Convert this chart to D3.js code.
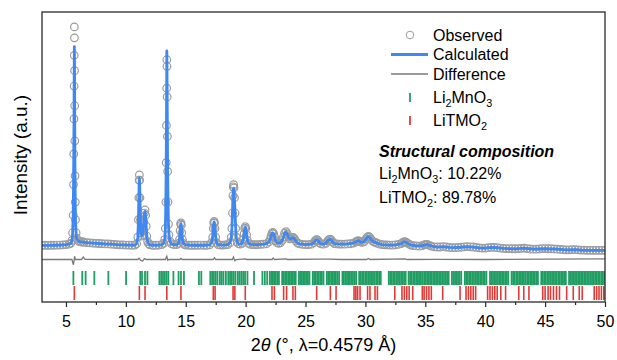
<!DOCTYPE html>
<html><head><meta charset="utf-8">
<script src="https://cdn.jsdelivr.net/npm/d3@7"></script>
<style>
body{margin:0;background:#fff}
svg{display:block}
text{font-family:"Liberation Sans",Arial,Helvetica,sans-serif;fill:#000}
</style>
</head><body>
<svg id="chart" width="617" height="360"></svg>
<script>
// ---------- DATA ----------
// Observed pattern: [2theta, intensity]
const observed = [
[3,0.2],[3.25,0.3],[3.5,0.2],[3.75,0.3],[4,0.3],[4.25,0.4],[4.5,0.4],[4.75,0.5],[5,0.6],[5.25,0.8],[5.4,1.2],[5.5,2.5],
[5.55,6],[5.6,14],[5.63,28],[5.65,42],[5.67,58],[5.68,73],[5.69,87],[5.7,100],[5.71,95],[5.72,80],[5.73,64],[5.74,48],[5.76,32],[5.78,20],[5.8,12],[5.85,6],[5.9,3.5],[6,2.5],[6.1,2],
[6.25,1.8],[6.4,1.9],[6.5,1.6],[6.75,1.5],[7,1.4],[7.25,1.3],[7.5,1.2],[7.75,1.1],[8,1],[8.25,0.9],[8.5,0.9],[8.75,0.8],[9,0.7],[9.25,0.6],[9.5,0.5],[9.75,0.5],[10,0.4],[10.25,0.4],[10.5,0.3],[10.75,0.4],[10.9,1],
[11,4],[11.05,12],[11.08,22],[11.11,30],[11.13,32.4],[11.15,30],[11.18,22],[11.22,12],[11.27,6],[11.33,4.5],[11.4,5],
[11.45,7],[11.5,11],[11.55,15],[11.6,16.4],[11.65,14],[11.7,9],[11.75,4.5],[11.82,2],[11.9,1],[12,0.5],
[12.25,0.3],[12.5,0.3],[12.75,0.4],[13,0.6],[13.15,1.2],[13.25,3],
[13.3,8],[13.34,20],[13.37,38],[13.39,55],[13.41,72],[13.42,85],[13.43,82],[13.45,68],[13.47,50],[13.49,34],[13.52,20],[13.56,10],[13.6,5],[13.7,2],[13.8,1],[14,0.6],[14.25,0.6],[14.4,1.2],
[14.48,3],[14.53,7],[14.57,10],[14.6,10.5],[14.63,9.5],[14.67,6],[14.72,3],[14.8,1.2],[14.9,0.6],[15,0.4],[15.25,0.3],[15.5,0.3],[15.75,0.3],[16,0.3],[16.25,0.4],[16.5,0.3],[16.75,0.3],[17,0.5],[17.15,1.5],
[17.25,4],[17.3,8],[17.34,10.5],[17.37,11.2],[17.4,10.5],[17.44,8],[17.5,4],[17.58,1.5],[17.7,0.6],[17.9,0.4],[18.1,0.4],[18.3,0.5],[18.5,0.6],[18.7,1.5],[18.8,4],
[18.85,8],[18.9,15],[18.94,23],[18.97,27],[19,28],[19.03,26.5],[19.07,22],[19.12,15],[19.17,8],[19.22,4],[19.3,1.8],[19.4,1],[19.55,0.8],[19.7,1.2],[19.8,3],
[19.87,5.5],[19.92,8],[19.97,8.8],[20.02,8],[20.08,5],[20.15,2.5],[20.25,1.2],[20.4,0.7],[20.6,0.6],[20.8,0.6],[21,0.6],[21.25,0.7],[21.5,0.8],[21.75,1],[21.95,1.8],
[22.05,3],[22.12,4.5],[22.2,5.8],[22.27,6.2],[22.34,5.6],[22.42,4],[22.5,2.4],[22.6,1.5],[22.75,1.2],[22.9,1.4],[23.05,2.5],
[23.15,4],[23.25,5.8],[23.37,6.5],[23.48,5.5],[23.58,4],[23.68,3.2],
[23.8,3.3],[23.9,3.8],[23.98,3.9],[24.08,3.2],[24.2,2.2],[24.35,1.3],[24.5,0.9],[24.75,0.7],[25,0.6],[25.25,0.6],[25.5,0.8],[25.7,1.5],
[25.8,2.3],[25.88,2.8],[25.95,2.9],[26.05,2.4],[26.15,1.5],[26.3,0.9],[26.5,0.8],[26.7,1.2],[26.85,2.3],
[26.95,2.9],[27.05,3.1],[27.15,2.7],[27.25,1.8],[27.4,1.1],[27.6,0.9],[27.8,0.8],[28,0.8],[28.25,0.8],[28.5,0.9],[28.75,1],[29,1.3],[29.2,1.8],
[29.3,2.2],[29.4,2.4],[29.5,2.2],[29.6,1.8],[29.75,1.6],[29.9,2],[30.05,3.2],
[30.15,4],[30.25,4.4],[30.35,4],[30.45,3.2],[30.55,2.4],[30.7,1.8],[30.85,1.6],[31,1.2],[31.2,0.8],[31.4,0.6],[31.6,0.5],[31.8,0.5],[32,0.4],[32.25,0.4],[32.5,0.5],[32.75,0.7],[33,1.1],
[33.1,1.5],[33.2,1.8],[33.3,1.9],[33.4,1.7],[33.5,1.3],[33.65,0.8],[33.8,0.4],[34,0.1],[34.25,0],[34.5,-0.1],[34.75,0.1],[34.9,0.5],
[35,0.6],[35.1,0.7],[35.2,0.6],[35.35,0.2],[35.5,-0.1],[35.75,-0.4],[36,-0.5],[36.25,-0.5],[36.5,-0.3],[36.75,-0.5],[37,-0.7],[37.25,-0.8],[37.5,-0.8],[37.75,-0.7],[38,-0.6],[38.25,-0.4],[38.5,-0.3],[38.75,-0.4],[39,-0.5],[39.25,-0.7],[39.5,-0.9],[39.75,-1],[40,-1],[40.25,-0.8],[40.5,-0.7],[40.75,-0.7],[41,-0.8],[41.25,-1],[41.5,-1.1],[41.75,-1.2],[42,-1.2],[42.25,-1.3],[42.5,-1.3],[42.75,-1.2],[43,-1.1],[43.25,-1],[43.5,-1.2],[43.75,-1.4],[44,-1.5],[44.25,-1.5],[44.5,-1.4],[44.75,-1.2],[45,-1.2],[45.25,-1.3],[45.5,-1.3],[45.75,-1.4],[46,-1.5],[46.25,-1.6],[46.5,-1.7],[46.75,-1.8],[47,-1.8],[47.25,-1.7],[47.5,-1.7],[47.75,-1.8],[48,-1.9],[48.25,-1.9],[48.5,-2],[48.75,-2],[49,-2],[49.25,-2],[49.5,-2],[49.75,-2],[50,-2]
];

// Calculated pattern: [2theta, intensity]
const calculated = [
[3,0.25],[3.5,0.25],[4,0.3],[4.5,0.4],[5,0.6],[5.25,0.8],[5.4,1.2],[5.5,2.4],[5.55,5],[5.6,13],[5.63,27],[5.65,41],[5.67,57],[5.68,70],[5.69,82],[5.7,91],[5.71,88],[5.72,76],[5.73,62],[5.74,47],[5.76,31],[5.78,19],[5.8,11],[5.85,5.5],[5.9,3.4],[6,2.5],[6.1,2],[6.25,1.8],[6.4,1.7],[6.75,1.5],[7.25,1.3],[7.75,1.1],[8.25,0.9],[8.75,0.8],[9.25,0.6],[9.75,0.5],[10.25,0.4],[10.75,0.4],[10.9,1],
[11,4],[11.05,12],[11.08,21],[11.11,29],[11.13,31],[11.15,29],[11.18,21.5],[11.22,12],[11.27,6],[11.33,4.6],[11.4,5.2],[11.45,7],[11.5,10.5],[11.55,14.5],[11.6,15.8],[11.65,13.5],[11.7,8.8],[11.75,4.5],[11.82,2],[11.9,1],[12,0.5],[12.5,0.3],[13,0.6],[13.15,1.2],[13.25,3],
[13.3,8],[13.34,20.5],[13.37,39],[13.39,57],[13.41,76],[13.42,89],[13.43,85],[13.45,69],[13.47,50],[13.49,34],[13.52,20],[13.56,10],[13.6,5],[13.7,2],[13.8,1],[14,0.6],[14.25,0.6],[14.4,1.2],
[14.48,3],[14.53,7],[14.57,9.8],[14.6,10.2],[14.63,9.3],[14.67,6],[14.72,3],[14.8,1.2],[14.9,0.6],[15.5,0.3],[16.5,0.3],[17,0.5],[17.15,1.5],
[17.25,4],[17.3,8],[17.34,10.5],[17.37,11],[17.4,10.4],[17.44,8],[17.5,4],[17.58,1.5],[17.7,0.6],[18.1,0.4],[18.5,0.6],[18.7,1.5],[18.8,4],
[18.85,8],[18.9,15],[18.94,22.5],[18.97,26],[19,26.3],[19.03,25],[19.07,21],[19.12,14.5],[19.17,8],[19.22,4],[19.3,1.8],[19.4,1],[19.55,0.8],[19.7,1.2],[19.8,3],
[19.87,5.5],[19.92,8],[19.97,8.6],[20.02,7.9],[20.08,5],[20.15,2.5],[20.25,1.2],[20.4,0.7],[21,0.6],[21.5,0.8],[21.75,1],[21.95,1.8],
[22.05,3],[22.12,4.5],[22.2,5.7],[22.27,6],[22.34,5.5],[22.42,4],[22.5,2.4],[22.6,1.5],[22.75,1.2],[22.9,1.4],[23.05,2.5],
[23.15,4],[23.25,5.7],[23.37,6.3],[23.48,5.4],[23.58,4],[23.68,3.2],[23.8,3.3],[23.9,3.7],[23.98,3.8],[24.08,3.2],[24.2,2.2],[24.35,1.3],[24.5,0.9],[25,0.6],[25.5,0.8],[25.7,1.5],
[25.8,2.3],[25.88,2.8],[25.95,2.9],[26.05,2.4],[26.15,1.5],[26.3,0.9],[26.5,0.8],[26.7,1.2],[26.85,2.3],[26.95,2.9],[27.05,3.1],[27.15,2.7],[27.25,1.8],[27.4,1.1],[27.6,0.9],[28,0.8],[28.5,0.9],[29,1.3],[29.2,1.8],
[29.3,2.2],[29.4,2.4],[29.5,2.2],[29.6,1.8],[29.75,1.6],[29.9,2],[30.05,3.2],[30.15,4],[30.25,4.2],[30.35,3.9],[30.45,3.2],[30.55,2.4],[30.7,1.8],[30.85,1.6],[31,1.2],[31.4,0.6],[32,0.4],[32.5,0.5],[33,1.1],
[33.1,1.5],[33.2,1.8],[33.3,1.9],[33.4,1.7],[33.5,1.3],[33.65,0.8],[33.8,0.4],[34.25,0],[34.75,0.1],[35.05,0.6],[35.2,0.6],[35.5,-0.1],[36,-0.5],[36.5,-0.3],[37,-0.7],[37.5,-0.8],[38,-0.6],[38.5,-0.3],[39,-0.5],[39.5,-0.9],[40,-1],[40.5,-0.7],[41,-0.8],[41.5,-1.1],[42,-1.2],[42.5,-1.3],[43.25,-1],[44,-1.5],[44.5,-1.4],[45,-1.2],[45.5,-1.3],[46,-1.5],[46.5,-1.7],[47,-1.8],[47.5,-1.7],[48,-1.9],[48.5,-2],[50,-2]
];

// Difference curve (obs - calc): [2theta, value]
const difference = [
[3,0],[4,0.1],[5,0],[5.5,0],[5.62,-2.4],[5.68,-0.5],[5.72,1.5],[5.78,0],[6.3,0],[6.45,1.1],[6.6,0.1],[8,0],[10,0.1],[11,0],[11.1,0.6],[11.25,-0.4],[11.4,-0.7],[11.55,0.4],[11.7,0],
[12.5,0.1],[13.3,0],[13.42,1.5],[13.5,-0.3],[13.6,0],[14.5,0],[14.6,0.5],[14.7,0],[16,0.1],[17.3,0],[17.4,0.8],[17.5,0],[18.9,0],[18.98,1.1],[19.1,-0.6],[19.2,0],[20,0.3],[20.1,0],
[22.2,0],[22.3,0.7],[22.4,0],[23.4,0.3],[23.5,0],[26,0.2],[27,0.2],[28,0],[30.1,0],[30.25,0.5],[30.4,0],[33.3,0.3],[33.5,0],[36,0.1],[40,0],[45,0.2],[50,0.3]
];
const diffOffset = -6.2;

// Reflection positions (2theta)
const li2mno3Ticks = [5.62,6.36,6.64,7.37,8.54,10.02,11.2,11.35,11.6,11.8,12.8,12.95,13.1,13.25,13.4,13.55,13.97,14.4,14.6,14.85,16.1,16.3,
17.05,17.2,17.35,17.5,17.65,17.85,18.0,18.15,18.35,18.55,18.7,18.85,19.0,19.15,19.35,19.5,19.65,19.8,19.95,20.15,20.7,21.4,21.6,21.8,
22.02,22.15,22.27,22.38,22.52,22.66,22.78,23.05,23.17,23.3,23.42,23.55,23.68,23.8,23.93,24.05,24.18,24.45,24.57,24.7,24.82,24.95,25.08,25.2,25.33,
25.6,25.72,25.85,25.98,26.1,26.23,26.36,26.5,26.78,26.9,27.03,27.16,27.28,27.4,27.53,27.66,27.8,28.08,28.2,28.33,28.46,28.58,28.7,28.83,28.96,29.1,29.23,
29.48,29.6,29.73,29.86,30.0,30.12,30.25,30.38,30.5,30.63,30.76,30.9,31.02,31.15,31.28,31.95,32.08,32.2,32.33,32.46,32.6,32.72,32.85,32.98,33.1,33.23,33.36,
33.6,33.73,33.86,34.0,34.12,34.25,34.38,34.5,34.63,34.76,34.9,35.02,35.15,35.28,35.4,35.53,35.66,35.8,35.92,36.05,36.18,36.3,36.43,36.56,36.7,36.82,36.95,
37.22,37.35,37.48,37.6,37.73,37.86,38.0,38.3,38.42,38.55,38.68,38.8,38.93,39.06,39.2,39.32,39.45,39.58,39.7,39.83,39.96,40.1,40.4,40.52,40.65,40.78,40.9,
41.03,41.16,41.3,41.42,41.55,41.68,41.8,41.93,42.2,42.33,42.46,42.6,42.72,42.85,42.98,43.1,43.23,43.36,43.5,43.62,43.75,43.88,44.0,44.13,44.26,44.4,
44.68,44.8,44.93,45.06,45.2,45.32,45.45,45.58,45.7,45.83,45.96,46.1,46.22,46.35,46.48,46.6,46.73,47.0,47.12,47.25,47.38,47.5,47.63,47.76,47.9,
48.02,48.15,48.28,48.4,48.53,48.66,48.8,48.92,49.05,49.18,49.3,49.43,49.56,49.7,49.82,49.95];
const litmo2Ticks = [5.7,11.13,11.6,13.42,14.6,17.3,17.45,18.95,19.1,19.97,22.2,22.4,23.17,23.42,23.95,24.15,25.93,27.07,27.55,29.05,29.2,29.35,29.55,
30.18,30.38,30.8,31.0,32.45,33.05,33.25,33.45,33.65,33.95,34.75,34.9,35.1,35.3,35.5,36.45,37.9,38.4,38.6,38.8,39.0,39.2,40.2,40.4,40.6,40.8,41.0,41.3,41.7,
42.8,43.22,43.65,44.8,45.0,45.25,45.45,45.7,45.95,46.2,46.8,47.35,47.85,48.1,49.1,49.3,49.5,49.7,49.9];

const majorTicks = [5,10,15,20,25,30,35,40,45,50];
const minorTicks = [7.5,12.5,17.5,22.5,27.5,32.5,37.5,42.5,47.5];

const legendItems = [
  {type:"circle", parts:[["Observed",0]]},
  {type:"calc", parts:[["Calculated",0]]},
  {type:"diff", parts:[["Difference",0]]},
  {type:"green", parts:[["Li",0],["2",1],["MnO",0],["3",1]]},
  {type:"red", parts:[["LiTMO",0],["2",1]]}
];
const compositionTitle = "Structural composition";
const compositionLines = [
  [["Li",0],["2",1],["MnO",0],["3",1],[": 10.22%",0]],
  [["LiTMO",0],["2",1],[": 89.78%",0]]
];

// ---------- STYLE ----------
const C = {obs:"#9c9c9c", calc:"#3f88f2", diff:"#7a7a7a", green:"#1f9d62", red:"#e03a36", frame:"#2a2a2a"};
const L = 42, R = 605, T = 12, B = 302;

const svg = d3.select("#chart");
const x = d3.scaleLinear().domain([3,50]).range([L,R]);
const y = d3.scaleLinear().domain([-25.6,106.8]).range([B,T]);

svg.append("defs").append("clipPath").attr("id","clip")
  .append("rect").attr("x",L).attr("y",T).attr("width",R-L).attr("height",B-T);

const plot = svg.append("g").attr("clip-path","url(#clip)");

// observed circles
plot.append("g").selectAll("circle").data(observed).join("circle")
  .attr("cx",d=>x(d[0])).attr("cy",d=>y(d[1])).attr("r",3.8)
  .attr("fill","none").attr("stroke",C.obs).attr("stroke-width",1.2);

// calculated line
plot.append("path").datum(calculated)
  .attr("d",d3.line().x(d=>x(d[0])).y(d=>y(d[1])))
  .attr("fill","none").attr("stroke",C.calc).attr("stroke-width",2.8).attr("stroke-linejoin","round");

// difference
plot.append("path").datum(difference)
  .attr("d",d3.line().x(d=>x(d[0])).y(d=>y(d[1]+diffOffset)))
  .attr("fill","none").attr("stroke",C.diff).attr("stroke-width",1.3);

// reflection ticks
plot.append("g").selectAll("line").data(li2mno3Ticks).join("line")
  .attr("x1",d=>x(d)).attr("x2",d=>x(d)).attr("y1",B-31).attr("y2",B-17)
  .attr("stroke",C.green).attr("stroke-width",1.8);
plot.append("g").selectAll("line").data(litmo2Ticks).join("line")
  .attr("x1",d=>x(d)).attr("x2",d=>x(d)).attr("y1",B-16).attr("y2",B-2)
  .attr("stroke",C.red).attr("stroke-width",1.6);

// axes
const ax = svg.append("g").attr("transform",`translate(0,${B})`)
  .call(d3.axisBottom(x).tickValues(majorTicks).tickSize(5).tickPadding(9).tickFormat(d3.format("d")));
ax.select(".domain").remove();
ax.selectAll("line").attr("stroke",C.frame).attr("stroke-width",1.2);
ax.selectAll("text").attr("font-size",16).attr("font-family","Liberation Sans, Arial, sans-serif");
const axm = svg.append("g").attr("transform",`translate(0,${B})`)
  .call(d3.axisBottom(x).tickValues(minorTicks).tickSize(3).tickFormat(""));
axm.select(".domain").remove();
axm.selectAll("line").attr("stroke",C.frame).attr("stroke-width",1.2);

// frame
svg.append("rect").attr("x",L).attr("y",T).attr("width",R-L).attr("height",B-T)
  .attr("fill","none").attr("stroke",C.frame).attr("stroke-width",1.3);

// axis titles
const xt = svg.append("text").attr("x",(L+R)/2).attr("y",351).attr("text-anchor","middle").attr("font-size",18);
xt.append("tspan").text("2");
xt.append("tspan").attr("font-style","italic").text("θ");
xt.append("tspan").text(" (°, λ=0.4579 Å)");

svg.append("text").attr("transform","translate(27,155) rotate(-90)")
  .attr("text-anchor","middle").attr("font-size",19).text("Intensity (a.u.)");

function rich(sel, parts, size){
  let inSub = false;
  parts.forEach(([t,sub])=>{
    if(sub){ sel.append("tspan").attr("font-size",size*0.68).attr("dy",4).text(t); inSub = true; }
    else { sel.append("tspan").attr("dy",inSub?-4:0).text(t); inSub = false; }
  });
}

// legend
const legY = [35,54.5,74,97,120];
const lg = svg.append("g");
legendItems.forEach((it,i)=>{
  const cy = legY[i];
  if(it.type==="circle") lg.append("circle").attr("cx",410).attr("cy",cy).attr("r",3.8).attr("fill","none").attr("stroke",C.obs);
  if(it.type==="calc") lg.append("line").attr("x1",391).attr("x2",428).attr("y1",cy).attr("y2",cy).attr("stroke",C.calc).attr("stroke-width",3);
  if(it.type==="diff") lg.append("line").attr("x1",391).attr("x2",428).attr("y1",cy).attr("y2",cy).attr("stroke",C.diff).attr("stroke-width",1.5);
  if(it.type==="green") lg.append("line").attr("x1",410).attr("x2",410).attr("y1",cy-4).attr("y2",cy+5).attr("stroke",C.green).attr("stroke-width",1.8);
  if(it.type==="red") lg.append("line").attr("x1",410).attr("x2",410).attr("y1",cy-4).attr("y2",cy+5).attr("stroke",C.red).attr("stroke-width",1.8);
  const t = lg.append("text").attr("x",433).attr("y",cy+5.5).attr("font-size",16);
  rich(t,it.parts,16);
});

// composition text
svg.append("text").attr("x",379).attr("y",157).attr("font-size",16)
  .attr("font-weight","bold").attr("font-style","italic").text(compositionTitle);
compositionLines.forEach((parts,i)=>{
  const t = svg.append("text").attr("x",379).attr("y",179+i*24).attr("font-size",16);
  rich(t,parts,16);
});
</script>
</body></html>
